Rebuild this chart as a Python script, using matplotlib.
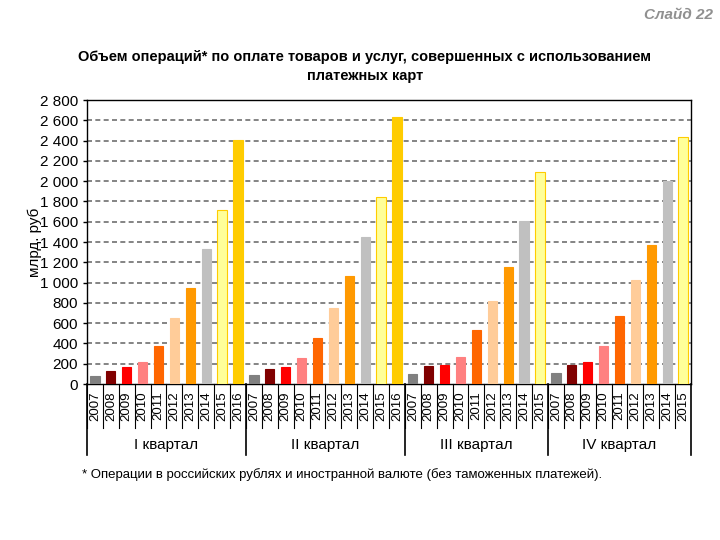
import matplotlib.pyplot as plt
from matplotlib.transforms import blended_transform_factory

# data (bn rub)
quarters = ['I квартал', 'II квартал', 'III квартал', 'IV квартал']
years_q1 = ['2007', '2008', '2009', '2010', '2011', '2012', '2013', '2014', '2015', '2016']
years_q2 = ['2007', '2008', '2009', '2010', '2011', '2012', '2013', '2014', '2015', '2016']
years_q3 = ['2007', '2008', '2009', '2010', '2011', '2012', '2013', '2014', '2015']
years_q4 = ['2007', '2008', '2009', '2010', '2011', '2012', '2013', '2014', '2015']
values_q1 = [80, 130, 170, 220, 370, 650, 950, 1330, 1720, 2405]
values_q2 = [90, 150, 170, 260, 450, 750, 1065, 1445, 1840, 2630]
values_q3 = [100, 175, 185, 270, 530, 820, 1155, 1605, 2095]
values_q4 = [110, 185, 215, 370, 670, 1025, 1370, 2005, 2435]

year_colors = {
    '2007': '#808080', '2008': '#800000', '2009': '#ff0000', '2010': '#ff8080',
    '2011': '#ff6600', '2012': '#ffcc99', '2013': '#ff9900', '2014': '#c0c0c0',
    '2015': '#ffff99', '2016': '#ffcc00',
}
year_edges = {'2015': '#ffcc00'}

plt.rcParams['font.family'] = ['Liberation Sans', 'DejaVu Sans']

groups = [years_q1, years_q2, years_q3, years_q4]
group_vals = [values_q1, values_q2, values_q3, values_q4]

fig = plt.figure(figsize=(7.2, 5.4), dpi=100)
ax = fig.add_axes([87 / 720, 1 - 384 / 540, (691 - 87) / 720, (384 - 100) / 540])

labels, vals = [], []
for yrs, v in zip(groups, group_vals):
    labels += yrs
    vals += v
xs = list(range(len(vals)))
colors = [year_colors[y] for y in labels]
edges = [year_edges.get(y, c) for y, c in zip(labels, colors)]
ax.bar(xs, vals, width=0.58, color=colors, edgecolor=edges, linewidth=0.8, zorder=3)

ax.set_xlim(-0.5, len(vals) - 0.5)
ax.set_ylim(0, 2800)
ax.set_yticks(range(0, 2801, 200))
ax.set_yticklabels([f'{t:,}'.replace(',', ' ') for t in range(0, 2801, 200)], fontsize=11)
ax.tick_params(axis='y', length=3, width=1)
ax.set_xticks([])
for t in range(200, 2800, 200):
    ax.axhline(t, color='#707070', lw=1.2, dashes=(3, 2), zorder=1)
for s in ax.spines.values():
    s.set_color('black')
    s.set_linewidth(1)
ax.text(-52 / 604, 0.5, 'млрд. руб', rotation=90, ha='center', va='center',
        fontsize=11, transform=ax.transAxes)

# table under the axis: years and quarters
tr = blended_transform_factory(ax.transData, ax.transAxes)
y_year = -44 / 284
y_quarter = -71 / 284
for i, y in enumerate(labels):
    ax.text(i, y_year / 2, y, rotation=90, ha='center', va='center',
            fontsize=9.5, transform=tr)
    ax.plot([i - 0.5, i - 0.5], [0, y_year], color='black', lw=0.8,
            transform=tr, clip_on=False)
start = 0
for q, yrs in zip(quarters, groups):
    end = start + len(yrs)
    ax.text((start + end - 1) / 2, -61 / 284, q, ha='center', va='center',
            fontsize=11, transform=tr)
    ax.plot([start - 0.5, start - 0.5], [0, y_quarter], color='black', lw=1.2,
            transform=tr, clip_on=False)
    start = end
ax.plot([start - 0.5, start - 0.5], [0, y_quarter], color='black', lw=1.2,
        transform=tr, clip_on=False)

fig.text(365 / 720, 1 - 57 / 540,
         'Объем операций* по оплате товаров и услуг, совершенных с использованием',
         ha='center', va='center', fontsize=10.5, fontweight='bold')
fig.text(365 / 720, 1 - 76 / 540, 'платежных карт', ha='center', va='center',
         fontsize=10.5, fontweight='bold')
fig.text(713 / 720, 1 - 15 / 540, 'Слайд 22', ha='right', va='center',
         fontsize=11, style='italic', fontweight='bold', color='#909090')
fig.text(82 / 720, 1 - 475 / 540,
         '* Операции в российских рублях и иностранной валюте (без таможенных платежей).',
         ha='left', va='center', fontsize=9.5)

fig.savefig('out.png', dpi=100)
